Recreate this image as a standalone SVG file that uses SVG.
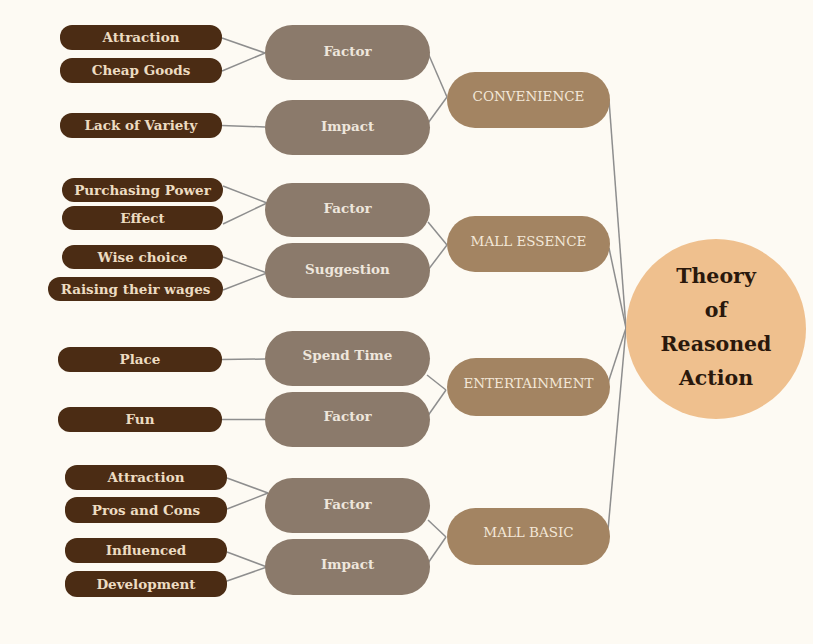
<svg xmlns="http://www.w3.org/2000/svg" width="813" height="644" viewBox="0 0 813 644">
  <style>
    .leaf rect { fill: #4b2c14; }
    .leaf text { fill: #eddcc2; font-family: "DejaVu Serif", "Liberation Serif", serif; font-weight: bold; font-size: 13.5px; text-anchor: middle; }
    .mid rect { fill: #8b7a6b; }
    .mid text { fill: #eee6dc; font-family: "DejaVu Serif", "Liberation Serif", serif; font-weight: bold; font-size: 13.5px; text-anchor: middle; }
    .cat rect { fill: #a38462; }
    .cat text { fill: #f3e8d8; font-family: "DejaVu Serif", "Liberation Serif", serif; font-size: 13.5px; text-anchor: middle; }
    .hub text { fill: #2a180c; font-family: "DejaVu Serif", "Liberation Serif", serif; font-weight: bold; font-size: 20.5px; text-anchor: middle; }
    .links line { stroke: #8e8e8e; stroke-width: 1.5; }
  </style>

  <rect width="813" height="644" fill="#fdfaf3"/>

  <!-- connectors -->
  <g class="links">
    <!-- leaves to sub-topics -->
    <line x1="222" y1="38" x2="265" y2="53"/>
    <line x1="222" y1="71" x2="265" y2="53"/>
    <line x1="222" y1="125.5" x2="265" y2="127"/>
    <line x1="223" y1="186" x2="267" y2="203"/>
    <line x1="223" y1="224" x2="267" y2="203"/>
    <line x1="223" y1="257" x2="267" y2="273"/>
    <line x1="223" y1="290" x2="267" y2="273"/>
    <line x1="222" y1="359.5" x2="265" y2="359"/>
    <line x1="222" y1="419.5" x2="265" y2="419.5"/>
    <line x1="227" y1="478" x2="268" y2="493"/>
    <line x1="227" y1="509" x2="268" y2="493"/>
    <line x1="227" y1="552" x2="267" y2="567"/>
    <line x1="227" y1="581" x2="267" y2="567"/>
    <!-- sub-topics to categories -->
    <line x1="428" y1="53" x2="447" y2="97"/>
    <line x1="428" y1="123" x2="447" y2="97"/>
    <line x1="428" y1="222" x2="447" y2="245"/>
    <line x1="428" y1="270" x2="447" y2="245"/>
    <line x1="427" y1="375" x2="446" y2="390"/>
    <line x1="427" y1="417" x2="446" y2="390"/>
    <line x1="428" y1="520" x2="446" y2="537"/>
    <line x1="428" y1="563" x2="446" y2="537"/>
    <!-- categories to theory -->
    <line x1="609" y1="100" x2="626" y2="328"/>
    <line x1="609" y1="248" x2="626" y2="328"/>
    <line x1="608" y1="383" x2="626" y2="328"/>
    <line x1="608" y1="530" x2="626" y2="328"/>
  </g>

  <!-- leaf nodes -->
  <g id="leaf-attraction-1" class="leaf"><rect x="60" y="25" width="162" height="25" rx="12"/><text x="141" y="42">Attraction</text></g>
  <g id="leaf-cheap-goods" class="leaf"><rect x="60" y="58" width="162" height="25" rx="12"/><text x="141" y="75">Cheap Goods</text></g>
  <g id="leaf-lack-of-variety" class="leaf"><rect x="60" y="113" width="162" height="25" rx="12"/><text x="141" y="130">Lack of Variety</text></g>
  <g id="leaf-purchasing-power" class="leaf"><rect x="62" y="178" width="161" height="24" rx="12"/><text x="142.5" y="194.5">Purchasing Power</text></g>
  <g id="leaf-effect" class="leaf"><rect x="62" y="206" width="161" height="24" rx="12"/><text x="142.5" y="222.5">Effect</text></g>
  <g id="leaf-wise-choice" class="leaf"><rect x="62" y="245" width="161" height="24" rx="12"/><text x="142.5" y="261.5">Wise choice</text></g>
  <g id="leaf-raising-wages" class="leaf"><rect x="48" y="277" width="175" height="24" rx="12"/><text x="135.5" y="293.5">Raising their wages</text></g>
  <g id="leaf-place" class="leaf"><rect x="58" y="347" width="164" height="25" rx="12"/><text x="140" y="364">Place</text></g>
  <g id="leaf-fun" class="leaf"><rect x="58" y="407" width="164" height="25" rx="12"/><text x="140" y="424">Fun</text></g>
  <g id="leaf-attraction-2" class="leaf"><rect x="65" y="465" width="162" height="25" rx="12"/><text x="146" y="482">Attraction</text></g>
  <g id="leaf-pros-cons" class="leaf"><rect x="65" y="497" width="162" height="26" rx="12"/><text x="146" y="514.5">Pros and Cons</text></g>
  <g id="leaf-influenced" class="leaf"><rect x="65" y="538" width="162" height="25" rx="12"/><text x="146" y="555">Influenced</text></g>
  <g id="leaf-development" class="leaf"><rect x="65" y="571" width="162" height="26" rx="12"/><text x="146" y="588.5">Development</text></g>

  <!-- sub-topic nodes -->
  <g id="sub-factor-1" class="mid"><rect x="265" y="25" width="165" height="55" rx="27.5"/><text x="347.5" y="56">Factor</text></g>
  <g id="sub-impact-1" class="mid"><rect x="265" y="100" width="165" height="55" rx="27.5"/><text x="347.5" y="131">Impact</text></g>
  <g id="sub-factor-2" class="mid"><rect x="265" y="183" width="165" height="54" rx="27"/><text x="347.5" y="213">Factor</text></g>
  <g id="sub-suggestion" class="mid"><rect x="265" y="243" width="165" height="55" rx="27.5"/><text x="347.5" y="274">Suggestion</text></g>
  <g id="sub-spend-time" class="mid"><rect x="265" y="331" width="165" height="55" rx="27.5"/><text x="347.5" y="360">Spend Time</text></g>
  <g id="sub-factor-3" class="mid"><rect x="265" y="392" width="165" height="55" rx="27.5"/><text x="347.5" y="421">Factor</text></g>
  <g id="sub-factor-4" class="mid"><rect x="265" y="478" width="165" height="55" rx="27.5"/><text x="347.5" y="509">Factor</text></g>
  <g id="sub-impact-2" class="mid"><rect x="265" y="539" width="165" height="56" rx="28"/><text x="347.5" y="569">Impact</text></g>

  <!-- category nodes -->
  <g id="cat-convenience" class="cat"><rect x="447" y="72" width="163" height="56" rx="28"/><text x="528.5" y="101">CONVENIENCE</text></g>
  <g id="cat-mall-essence" class="cat"><rect x="447" y="216" width="163" height="56" rx="28"/><text x="528.5" y="246">MALL ESSENCE</text></g>
  <g id="cat-entertainment" class="cat"><rect x="447" y="358" width="163" height="58" rx="29"/><text x="528.5" y="388">ENTERTAINMENT</text></g>
  <g id="cat-mall-basic" class="cat"><rect x="447" y="508" width="163" height="57" rx="28.5"/><text x="528.5" y="537">MALL BASIC</text></g>

  <!-- central theory node -->
  <g id="theory" class="hub">
    <circle cx="716" cy="329" r="90" fill="#efc08e"/>
    <text x="716" y="283">Theory</text>
    <text x="716" y="317">of</text>
    <text x="716" y="351">Reasoned</text>
    <text x="716" y="385">Action</text>
  </g>
</svg>
